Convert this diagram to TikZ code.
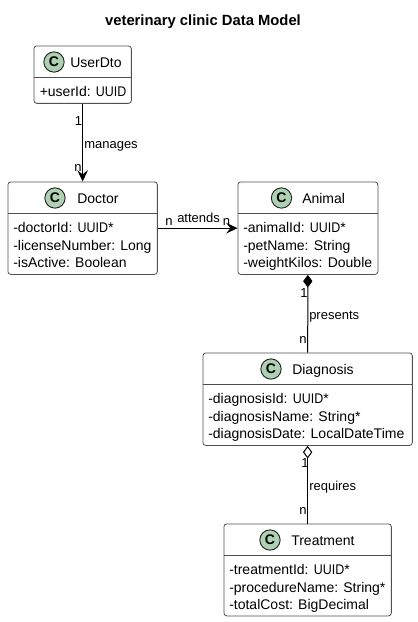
\documentclass[tikz,border=0pt]{standalone}
\usepackage{graphicx}
\usepackage{fontspec}
\setmainfont{Liberation Sans}
\usetikzlibrary{arrows.meta}
\definecolor{spot}{HTML}{ADD1B2}
\definecolor{edge}{HTML}{505050}
\newcommand{\uuidtext}{\scalebox{0.89}[1]{UUID}}
\tikzset{
  x=0.75pt,y=-0.75pt,
  classbox/.style={draw=edge,line width=0.6pt,fill=white,rounded corners=2.2pt,inner sep=0pt,anchor=north west},
  divider/.style={draw=edge,line width=0.5pt},
  spotc/.style={circle,draw=black!85,line width=0.7pt,fill=spot,minimum size=15.2pt,inner sep=0pt,font=\fontsize{10.5pt}{12pt}\selectfont\bfseries},
  cname/.style={font=\fontsize{10.5pt}{12pt}\selectfont,inner sep=0pt,anchor=base west,text=black},
  member/.style={font=\fontsize{10.5pt}{12pt}\selectfont,inner sep=0pt,anchor=base west,text=black},
  lab/.style={font=\fontsize{9.75pt}{12pt}\selectfont,inner sep=0pt,anchor=base west,text=black},
  link/.style={draw=black,line width=0.75pt},
  openhead/.style={-{Stealth[length=8.5pt,width=8pt,inset=3.2pt]}},
  solidhead/.style={{Diamond[length=9.5pt,width=7pt,fill=black]}-},
  hollowhead/.style={{Diamond[length=9.5pt,width=7pt,open,fill=white]}-},
}
\begin{document}
\begin{tikzpicture}
\useasboundingbox (0,0) rectangle (418,622);
\fill[white] (0,0) rectangle (418,622);
\node[font=\fontsize{11.1pt}{12pt}\selectfont\bfseries,inner sep=0pt,anchor=base] (title) at (203,25) {veterinary clinic Data Model};

% classes
\node[classbox,minimum width=73.1pt,minimum height=43.1pt] (user) at (33.5,45.5) {};
\node[classbox,minimum width=112.1pt,minimum height=69.4pt] (doctor) at (7.5,181.5) {};
\node[classbox,minimum width=105pt,minimum height=69.4pt] (animal) at (237.5,181.5) {};
\node[classbox,minimum width=157.1pt,minimum height=69.4pt] (diagnosis) at (202.5,352.5) {};
\node[classbox,minimum width=125.6pt,minimum height=69pt] (treatment) at (223.5,523.5) {};

\draw[divider] (33.5,77.5) -- (131,77.5);
\draw[divider] (7.5,213.5) -- (157,213.5);
\draw[divider] (237.5,213.5) -- (377.5,213.5);
\draw[divider] (202.5,384.5) -- (412,384.5);
\draw[divider] (223.5,555.5) -- (391,555.5);

\node[spotc] (cuser) at (54,62) {C};
\node[spotc] (cdoctor) at (55,198) {C};
\node[spotc] (canimal) at (281.5,198) {C};
\node[spotc] (cdiagnosis) at (271,369) {C};
\node[spotc] (ctreatment) at (270,540) {C};

\node[cname] (nuser) at (70,67) {UserDto};
\node[cname] (ndoctor) at (77,203) {Doctor};
\node[cname] (nanimal) at (302,203) {Animal};
\node[cname] (ndiagnosis) at (292,374) {Diagnosis};
\node[cname] (ntreatment) at (291,545) {Treatment};

\node[member] (u1) at (39.5,96) {+userId: \uuidtext};
\node[member] (d1) at (13,232) {-doctorId: \uuidtext*};
\node[member] (d2) at (13,250) {-licenseNumber: Long};
\node[member] (d3) at (13,267) {-isActive: Boolean};
\node[member] (a1) at (243,232) {-animalId: \uuidtext*};
\node[member] (a2) at (243,250) {-petName: String};
\node[member] (a3) at (243,267) {-weightKilos: Double};
\node[member] (g1) at (208,403) {-diagnosisId: \uuidtext*};
\node[member] (g2) at (208,421) {-diagnosisName: String*};
\node[member] (g3) at (208,438) {-diagnosisDate: LocalDateTime};
\node[member] (t1) at (229,574) {-treatmentId: \uuidtext*};
\node[member] (t2) at (229,592) {-procedureName: String*};
\node[member] (t3) at (229,609) {-totalCost: BigDecimal};

% connectors
\draw[link,openhead] (user) -- (doctor);
\draw[link,openhead] (doctor) -- (animal);
\draw[link,solidhead] (animal) -- (diagnosis);
\draw[link,hollowhead] (diagnosis) -- (treatment);

% labels
\node[lab] (l1) at (74.5,125) {1};
\node[lab] (l2) at (74,171) {n};
\node[lab] (l3) at (84,148) {manages};
\node[lab] (l4) at (165,225) {n};
\node[lab] (l5) at (177,222) {attends};
\node[lab] (l6) at (222.5,225) {n};
\node[lab] (l7) at (300,297) {1};
\node[lab] (l8) at (299,343) {n};
\node[lab] (l9) at (309,319) {presents};
\node[lab] (l10) at (301,467) {1};
\node[lab] (l11) at (299,514) {n};
\node[lab] (l12) at (309,490) {requires};
\end{tikzpicture}
\end{document}
